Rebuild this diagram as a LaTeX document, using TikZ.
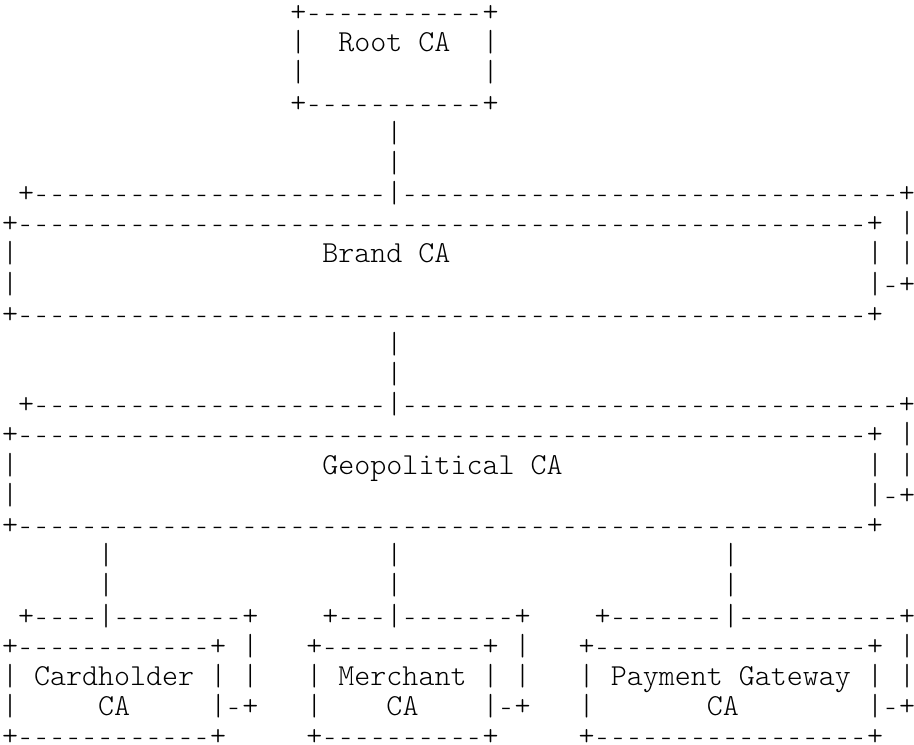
\documentclass[tikz,border=0pt]{standalone}
\usepackage{fontspec}
\setmonofont{lmmonolt10-regular.otf}
\usepackage{tikz}

% a run of n short dashes, one per character cell
\newcommand{\dashes}[1]{\foreach \k in {1,...,#1}{\makebox[0.525em]{\rmfamily -}}}

\tikzset{
  ascii/.style={anchor=base west, inner sep=0pt, outer sep=0pt,
    font=\ttfamily\fontsize{30.51}{36}\selectfont}
}

\begin{document}
\begin{tikzpicture}[x=16.02pt,y=-30.17pt]
\useasboundingbox (-2pt,21.6pt) rectangle (912pt,-723.4pt);

% Root CA
\node[ascii] (root-top) at (18,0) {+\dashes{11}+};
\node[ascii] (root-l1) at (18,1) {|};
\node[ascii] (root) at (21,1) {Root CA};
\node[ascii] (root-r1) at (30,1) {|};
\node[ascii] (root-l2) at (18,2) {|};
\node[ascii] (root-r2) at (30,2) {|};
\node[ascii] (root-bot) at (18,3) {+\dashes{11}+};
\node[ascii] (root-v1) at (24,4) {|};
\node[ascii] (root-v2) at (24,5) {|};

% Brand CA
\node[ascii] (brand-back) at (1,6) {+\dashes{22}|\dashes{31}+};
\node[ascii] (brand-top) at (0,7) {+\dashes{53}+};
\node[ascii] (brand-s1) at (56,7) {|};
\node[ascii] (brand-l1) at (0,8) {|};
\node[ascii] (brand) at (20,8) {Brand CA};
\node[ascii] (brand-r1) at (54,8) {|};
\node[ascii] (brand-s2) at (56,8) {|};
\node[ascii] (brand-l2) at (0,9) {|};
\node[ascii] (brand-r2) at (54,9) {|\dashes{1}+};
\node[ascii] (brand-bot) at (0,10) {+\dashes{53}+};
\node[ascii] (brand-v1) at (24,11) {|};
\node[ascii] (brand-v2) at (24,12) {|};

% Geopolitical CA
\node[ascii] (geo-back) at (1,13) {+\dashes{22}|\dashes{31}+};
\node[ascii] (geo-top) at (0,14) {+\dashes{53}+};
\node[ascii] (geo-s1) at (56,14) {|};
\node[ascii] (geo-l1) at (0,15) {|};
\node[ascii] (geo) at (20,15) {Geopolitical CA};
\node[ascii] (geo-r1) at (54,15) {|};
\node[ascii] (geo-s2) at (56,15) {|};
\node[ascii] (geo-l2) at (0,16) {|};
\node[ascii] (geo-r2) at (54,16) {|\dashes{1}+};
\node[ascii] (geo-bot) at (0,17) {+\dashes{53}+};
\node[ascii] (geo-va1) at (6,18) {|};
\node[ascii] (geo-vb1) at (24,18) {|};
\node[ascii] (geo-vc1) at (45,18) {|};
\node[ascii] (geo-va2) at (6,19) {|};
\node[ascii] (geo-vb2) at (24,19) {|};
\node[ascii] (geo-vc2) at (45,19) {|};

% Cardholder CA
\node[ascii] (card-back) at (1,20) {+\dashes{4}|\dashes{8}+};
\node[ascii] (card-top) at (0,21) {+\dashes{12}+};
\node[ascii] (card-s1) at (15,21) {|};
\node[ascii] (card-l1) at (0,22) {|};
\node[ascii] (card) at (2,22) {Cardholder};
\node[ascii] (card-r1) at (13,22) {|};
\node[ascii] (card-s2) at (15,22) {|};
\node[ascii] (card-l2) at (0,23) {|};
\node[ascii] (card-ca) at (6,23) {CA};
\node[ascii] (card-r2) at (13,23) {|\dashes{1}+};
\node[ascii] (card-bot) at (0,24) {+\dashes{12}+};

% Merchant CA
\node[ascii] (merch-back) at (20,20) {+\dashes{3}|\dashes{7}+};
\node[ascii] (merch-top) at (19,21) {+\dashes{10}+};
\node[ascii] (merch-s1) at (32,21) {|};
\node[ascii] (merch-l1) at (19,22) {|};
\node[ascii] (merch) at (21,22) {Merchant};
\node[ascii] (merch-r1) at (30,22) {|};
\node[ascii] (merch-s2) at (32,22) {|};
\node[ascii] (merch-l2) at (19,23) {|};
\node[ascii] (merch-ca) at (24,23) {CA};
\node[ascii] (merch-r2) at (30,23) {|\dashes{1}+};
\node[ascii] (merch-bot) at (19,24) {+\dashes{10}+};

% Payment Gateway CA
\node[ascii] (pay-back) at (37,20) {+\dashes{7}|\dashes{10}+};
\node[ascii] (pay-top) at (36,21) {+\dashes{17}+};
\node[ascii] (pay-s1) at (56,21) {|};
\node[ascii] (pay-l1) at (36,22) {|};
\node[ascii] (pay) at (38,22) {Payment Gateway};
\node[ascii] (pay-r1) at (54,22) {|};
\node[ascii] (pay-s2) at (56,22) {|};
\node[ascii] (pay-l2) at (36,23) {|};
\node[ascii] (pay-ca) at (44,23) {CA};
\node[ascii] (pay-r2) at (54,23) {|\dashes{1}+};
\node[ascii] (pay-bot) at (36,24) {+\dashes{17}+};

\end{tikzpicture}
\end{document}
